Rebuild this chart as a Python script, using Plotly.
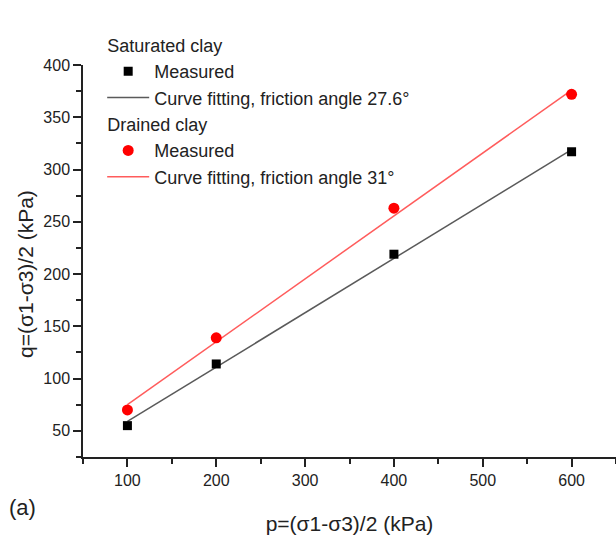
import plotly.graph_objects as go

# Data
p_vals = [100, 200, 400, 600]
q_saturated = [55, 114, 219, 317]
q_drained = [70, 139, 263, 372]

fit_x = [100, 600]
fit_saturated = [59, 319]
fit_drained = [75, 376]

x_ticks = [100, 200, 300, 400, 500, 600]
y_ticks = [50, 100, 150, 200, 250, 300, 350, 400]

FONT = "Liberation Sans, Arial, sans-serif"
INK = "#222222"
LEG = 18

fig = go.Figure()
fig.add_trace(go.Scatter(
    x=fit_x, y=fit_saturated, mode="lines",
    line=dict(color="#5a5a5a", width=1.5),
    name="Curve fitting, friction angle 27.6°",
    legendgroup="sat", legendrank=2,
    legendgrouptitle=dict(text="Saturated clay", font=dict(size=LEG, color=INK, family=FONT)),
))
fig.add_trace(go.Scatter(
    x=p_vals, y=q_saturated, mode="markers",
    marker=dict(symbol="square", size=9, color="black"),
    name="Measured", legendgroup="sat", legendrank=1,
))
fig.add_trace(go.Scatter(
    x=fit_x, y=fit_drained, mode="lines",
    line=dict(color="#ff5c5c", width=1.5),
    name="Curve fitting, friction angle 31°",
    legendgroup="dr", legendrank=4,
    legendgrouptitle=dict(text="Drained clay", font=dict(size=LEG, color=INK, family=FONT)),
))
fig.add_trace(go.Scatter(
    x=p_vals, y=q_drained, mode="markers",
    marker=dict(symbol="circle", size=11, color="#ff0000"),
    name="Measured", legendgroup="dr", legendrank=3,
))

axis_common = dict(
    showgrid=False, zeroline=False, showline=True, linecolor=INK, linewidth=1.5,
    ticks="outside", ticklen=8, tickwidth=1.5, tickcolor=INK,
    tickfont=dict(size=16, color=INK, family=FONT),
    mirror=False, automargin=False,
)

fig.update_layout(
    width=616, height=535,
    margin=dict(l=83, r=0, t=65, b=78),
    paper_bgcolor="white", plot_bgcolor="white",
    font=dict(family=FONT, size=16, color=INK),
    xaxis=dict(
        range=[50, 650], tickvals=x_ticks,
        minor=dict(ticks="outside", ticklen=5, tickwidth=1.5, tickcolor=INK, dtick=50, tick0=50),
        title=dict(text="p=(σ1-σ3)/2 (kPa)", font=dict(size=21, family=FONT, color=INK), standoff=29),
        **axis_common,
    ),
    yaxis=dict(
        range=[25, 400], tickvals=y_ticks,
        minor=dict(ticks="outside", ticklen=5, tickwidth=1.5, tickcolor=INK, dtick=25, tick0=25),
        **axis_common,
    ),
    legend=dict(
        x=0.036, xanchor="left",
        y=1.098, yanchor="top",
        bgcolor="rgba(0,0,0,0)", borderwidth=0,
        font=dict(size=LEG, family=FONT, color=INK),
        tracegroupgap=0, traceorder="grouped", itemwidth=42,
    ),
    showlegend=True,
)

# y-axis title (placed slightly below centre, as in the reference)
fig.add_annotation(
    text="q=(σ1-σ3)/2 (kPa)", xref="paper", yref="paper", x=-0.107, y=0.467,
    xanchor="center", yanchor="middle", textangle=-90, showarrow=False,
    font=dict(size=21, family=FONT, color=INK),
)

fig.add_annotation(
    text="(a)", xref="paper", yref="paper", x=-0.1425, y=-0.13,
    xanchor="left", yanchor="middle", showarrow=False,
    font=dict(size=22, family=FONT, color=INK),
)

fig.write_html("out.html", config={"displayModeBar": False},
               post_script="document.body.style.margin='0px';")
